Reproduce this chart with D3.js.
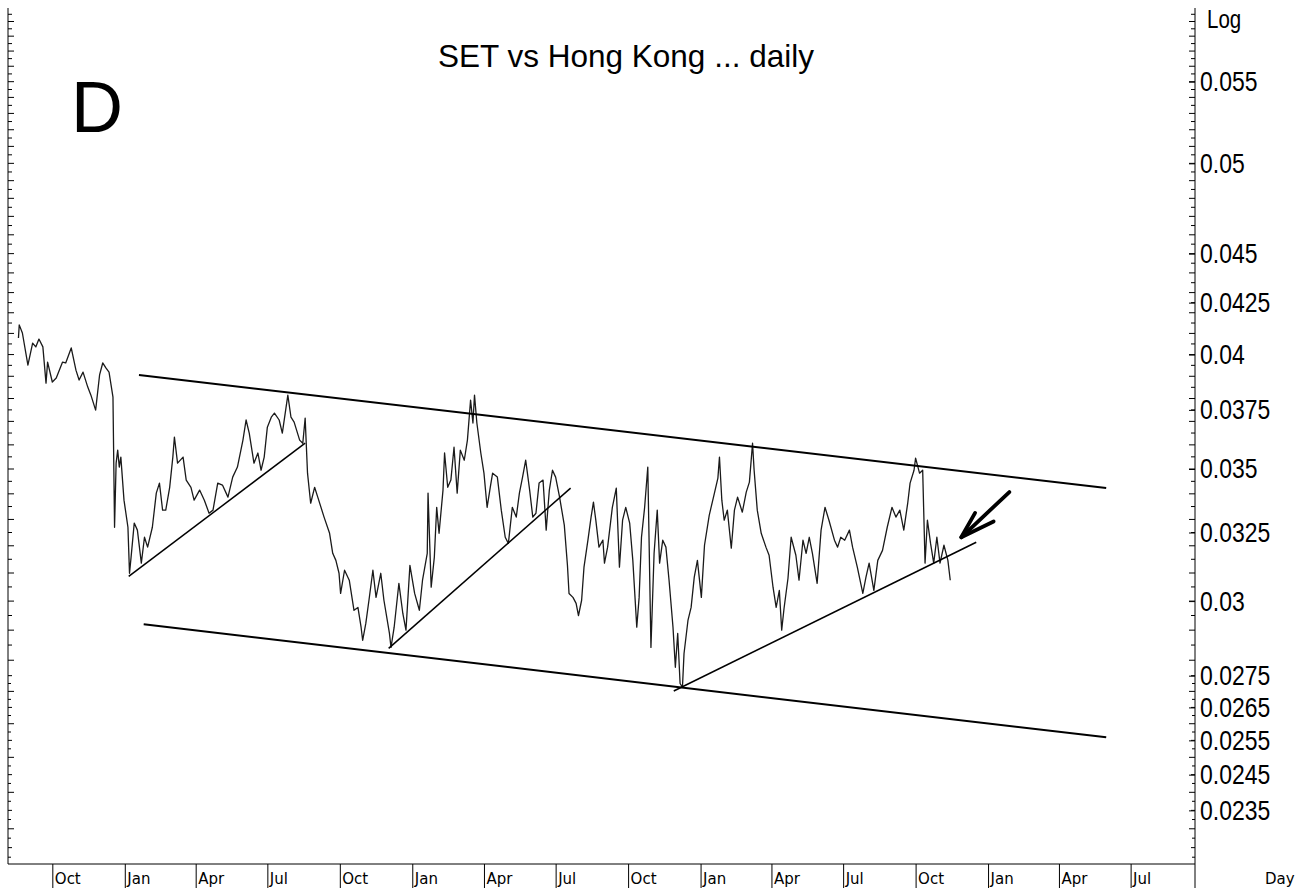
<!DOCTYPE html>
<html>
<head>
<meta charset="utf-8">
<script src="https://cdn.jsdelivr.net/npm/d3@7"></script>
<style>
  body { margin: 0; background: #fff; }
</style>
</head>
<body>
<script>
// SET / Hang Seng ratio (day offset from 2006-08-07)
const dayOffsets = [
  12,13,17,24,30,34,38,43,47,49,
  55,60,68,72,79,85,89,94,100,104,
  110,115,119,123,127,132,134,136,138,140,
  142,146,151,153,155,159,163,168,172,176,
  182,187,191,195,199,204,208,210,214,221,
  225,231,235,242,248,254,259,265,271,278,
  284,290,297,301,305,311,316,320,324,328,
  333,337,343,347,354,358,362,369,373,376,
  379,383,388,392,400,407,411,415,419,421,
  426,432,438,443,447,449,453,457,462,466,
  472,476,483,485,489,495,500,504,509,515,
  521,525,531,532,536,540,543,546,551,553,
  557,561,565,569,573,578,582,586,589,591,
  594,599,603,607,611,614,620,625,630,634,
  639,644,648,652,656,661,665,669,673,678,
  682,686,690,694,699,705,709,711,716,720,
  723,727,730,735,739,742,745,749,754,756,
  760,766,771,775,779,783,788,792,797,800,
  803,807,811,815,819,823,826,830,834,838,
  843,846,849,852,855,857,862,866,870,874,
  879,883,889,895,900,902,905,908,912,917,
  921,925,931,936,940,944,946,950,955,961,
  965,970,974,978,981,984,989,993,999,1003,
  1008,1012,1016,1020,1026,1031,1036,1041,1048,1052,
  1056,1061,1067,1071,1077,1084,1088,1092,1098,1103,
  1109,1115,1121,1126,1131,1136,1141,1144,1149,1151,
  1156,1160,1163,1166,1170,1174,1178,1182,1187,1192,1195
]
const ratioValues = [
  .04078,.04141,.04102,.03951,.04054,.04036,.04073,.04036,.03869,.03965,
  .03874,.03892,.03965,.03961,.04031,.03928,.03883,.03919,.03851,.03815,
  .03749,.03906,.03961,.03938,.03919,.03806,.03270,.03524,.03578,.03508,
  .03549,.03375,.03270,.03099,.03158,.03286,.03259,.03136,.03232,.03195,
  .03270,.03403,.03443,.03336,.03336,.03426,.03549,.03633,.03524,.03549,
  .03455,.03426,.03375,.03415,.03375,.03324,.03336,.03443,.03435,.03387,
  .03467,.03508,.03620,.03706,.03650,.03524,.03566,.03495,.03549,.03675,
  .03718,.03736,.03706,.03650,.03815,.03718,.03697,.03620,.03607,.03714,
  .03483,.03363,.03426,.03387,.03309,.03247,.03172,.03146,.03099,.03027,
  .03110,.03074,.02968,.02978,.02910,.02866,.02923,.03003,.03110,.03013,
  .03099,.03003,.02889,.02842,.02910,.03063,.02957,.02900,.03128,.03027,
  .02968,.03074,.03172,.03403,.03049,.03158,.03347,.03247,.03415,.03566,
  .03426,.03455,.03590,.03403,.03578,.03536,.03620,.03793,.03693,.03815,
  .03693,.03566,.03483,.03347,.03426,.03483,.03467,.03336,.03232,.03209,
  .03347,.03309,.03403,.03467,.03536,.03415,.03309,.03324,.03443,.03455,
  .03259,.03415,.03495,.03467,.03387,.03278,.03128,.03027,.03013,.02992,
  .02950,.03003,.03121,.03221,.03309,.03367,.03297,.03195,.03221,.03136,
  .03195,.03347,.03423,.03121,.03297,.03347,.03286,.03146,.02910,.03013,
  .03232,.03347,.03508,.02842,.03172,.03336,.03136,.03221,.03195,.03074,
  .02910,.02777,.02889,.02725,.02713,.02822,.02933,.02978,.03085,.03146,
  .03013,.03202,.03316,.03395,.03463,.03549,.03375,.03297,.03336,.03191,
  .03336,.03387,.03328,.03407,.03447,.03607,.03495,.03336,.03247,.03195,
  .03165,.03049,.02978,.03038,.02900,.02975,.03081,.03232,.03165,.03074,
  .03221,.03172,.03232,.03172,.03063,.03259,.03347,.03297,.03221,.03195,
  .03232,.03221,.03259,.03195,.03121,.03027,.03085,.03136,.03038,.03146,
  .03183,.03270,.03347,.03309,.03336,.03259,.03363,.03443,.03495,.03545,
  .03483,.03495,.03136,.03297,.03209,.03136,.03232,.03136,.03202,.03146,.03074
]

// hand drawn lines on the chart: [dayOffset, ratio] end points
const channelTop = [[165, 0.03906], [1393, 0.03423]]
const channelBottom = [[171, 0.02920], [1393, 0.02559]]
const trendOne = [[152, 0.03088], [376, 0.03607]]
const trendTwo = [[482, 0.02839], [713, 0.03423]]
const trendThree = [[844, 0.02701], [1228, 0.03213]]
const arrowLine = [[1270, 0.03407], [1209, 0.03232]]  // tail, tip

const quarterTicks = ["2006-10-01","2007-01-01","2007-04-01","2007-07-01","2007-10-01",
  "2008-01-01","2008-04-01","2008-07-01","2008-10-01","2009-01-01","2009-04-01",
  "2009-07-01","2009-10-01","2010-01-01","2010-04-01","2010-07-01"]
const yLabels = [0.055,0.05,0.045,0.0425,0.04,0.0375,0.035,0.0325,0.03,0.0275,0.0265,0.0255,0.0245,0.0235]

const w = 1315
const h = 888
const pl = 8, pr = 1195, pt = 8, pb = 864
const narrow = 0.82   // squeeze for the narrow axis font

const startDate = new Date(Date.UTC(2006, 7, 7))
const endDate = new Date(Date.UTC(2010, 8, 22))
const dayDate = d => d3.utcDay.offset(startDate, d)

const x = d3.scaleUtc().domain([startDate, endDate]).range([pl + 1, pr + 1])
const y = d3.scaleLog().domain([0.0221, 0.0605]).range([863, 0])

const svg = d3.select("body").append("svg")
  .attr("width", w)
  .attr("height", h)

const line = d3.line()
  .x(d => x(dayDate(d[0])))
  .y(d => y(d[1]))

// price ratio
const series = dayOffsets.map((d, i) => [d, ratioValues[i]])
svg.append("path")
  .datum(series)
  .attr("fill", "none")
  .attr("stroke", "#1a1a1a")
  .attr("stroke-width", 1.3)
  .attr("stroke-linejoin", "round")
  .attr("d", line)

// channel + trend lines
const drawn = [
  {pts: channelTop, sw: 2},
  {pts: channelBottom, sw: 2},
  {pts: trendOne, sw: 1.5},
  {pts: trendTwo, sw: 1.5},
  {pts: trendThree, sw: 1.6}
]
svg.append("g").selectAll("path")
  .data(drawn)
  .enter()
  .append("path")
  .attr("fill", "none")
  .attr("stroke", "#000")
  .attr("stroke-width", d => d.sw)
  .attr("d", d => line(d.pts))

// arrow pointing at the break
const tail = [x(dayDate(arrowLine[0][0])), y(arrowLine[0][1])]
const tip = [x(dayDate(arrowLine[1][0])), y(arrowLine[1][1])]
const ang = Math.atan2(tail[1] - tip[1], tail[0] - tip[0])
const arm = (a, len) => [tip[0] + len * Math.cos(ang + a), tip[1] + len * Math.sin(ang + a)]
const arrowG = svg.append("g")
  .attr("fill", "none")
  .attr("stroke", "#000")
  .attr("stroke-width", 3.8)
  .attr("stroke-linecap", "round")
  .attr("stroke-linejoin", "round")
arrowG.append("path").attr("d", d3.line()([tail, tip]))
arrowG.append("path").attr("d", d3.line()([arm(-0.3, 28), tip, arm(0.3, 36)]))

// frame lines
svg.append("line").attr("x1", pl).attr("x2", pl).attr("y1", pt).attr("y2", pb).attr("stroke", "#000")
svg.append("line").attr("x1", pr).attr("x2", pr).attr("y1", pt).attr("y2", h).attr("stroke", "#000")
svg.append("line").attr("x1", pl).attr("x2", pr).attr("y1", pb).attr("y2", pb).attr("stroke", "#000")

// small log ticks on both sides
const minor = d3.range(89, 243)
  .filter(i => i * 0.00025 < 0.0275 || i % 2 === 0)
  .map(i => ({v: i * 0.00025, len: i % 4 === 0 ? 6 : (i % 2 === 0 ? 4 : 3)}))
  .filter(d => y(d.v) >= pt && y(d.v) <= pb - 3)

svg.append("g").selectAll("line")
  .data(minor).enter().append("line")
  .attr("x1", pl).attr("x2", d => pl + d.len)
  .attr("y1", d => y(d.v)).attr("y2", d => y(d.v))
  .attr("stroke", "#000")
svg.append("g").selectAll("line")
  .data(minor).enter().append("line")
  .attr("x1", pr).attr("x2", d => pr - d.len)
  .attr("y1", d => y(d.v)).attr("y2", d => y(d.v))
  .attr("stroke", "#000")

// right value axis
const yAxis = d3.axisRight(y)
  .tickValues(yLabels)
  .tickFormat(d => String(d))
  .tickSize(-6)
  .tickPadding(5)

svg.append("g")
  .attr("transform", `translate(${pr},0)`)
  .call(yAxis)
  .call(g => g.select(".domain").remove())
  .call(g => g.selectAll("text")
    .attr("font-family", "'Liberation Sans', Arial, sans-serif")
    .attr("font-size", 28)
    .attr("fill", "#000")
    .attr("x", 5 / narrow)
    .attr("transform", `scale(${narrow},1)`))

// bottom date axis
const xAxis = d3.axisBottom(x)
  .tickValues(quarterTicks.map(s => new Date(s)))
  .tickFormat(d3.utcFormat("%b"))
  .tickSize(24)
  .tickSizeOuter(0)

svg.append("g")
  .attr("transform", `translate(0,${pb})`)
  .call(xAxis)
  .call(g => g.select(".domain").remove())
  .call(g => g.selectAll("text")
    .attr("font-family", "'DejaVu Sans', sans-serif")
    .attr("font-size", 15)
    .attr("fill", "#000")
    .attr("text-anchor", "start")
    .attr("x", 2)
    .attr("y", 20)
    .attr("dy", null))

// texts
svg.append("text")
  .attr("x", 626).attr("y", 67)
  .attr("text-anchor", "middle")
  .attr("font-family", "'Liberation Sans', Arial, sans-serif")
  .attr("font-size", 31.5)
  .text("SET vs Hong Kong ... daily")

svg.append("text")
  .attr("x", 71).attr("y", 132)
  .attr("font-family", "'Liberation Sans', Arial, sans-serif")
  .attr("font-size", 72)
  .text("D")

svg.append("text")
  .attr("transform", `translate(1207,28) scale(${narrow},1)`)
  .attr("font-family", "'Liberation Sans', Arial, sans-serif")
  .attr("font-size", 25)
  .text("Log")

svg.append("text")
  .attr("x", 1265).attr("y", 884)
  .attr("font-family", "'DejaVu Sans', sans-serif")
  .attr("font-size", 15)
  .text("Day")
</script>
</body>
</html>
